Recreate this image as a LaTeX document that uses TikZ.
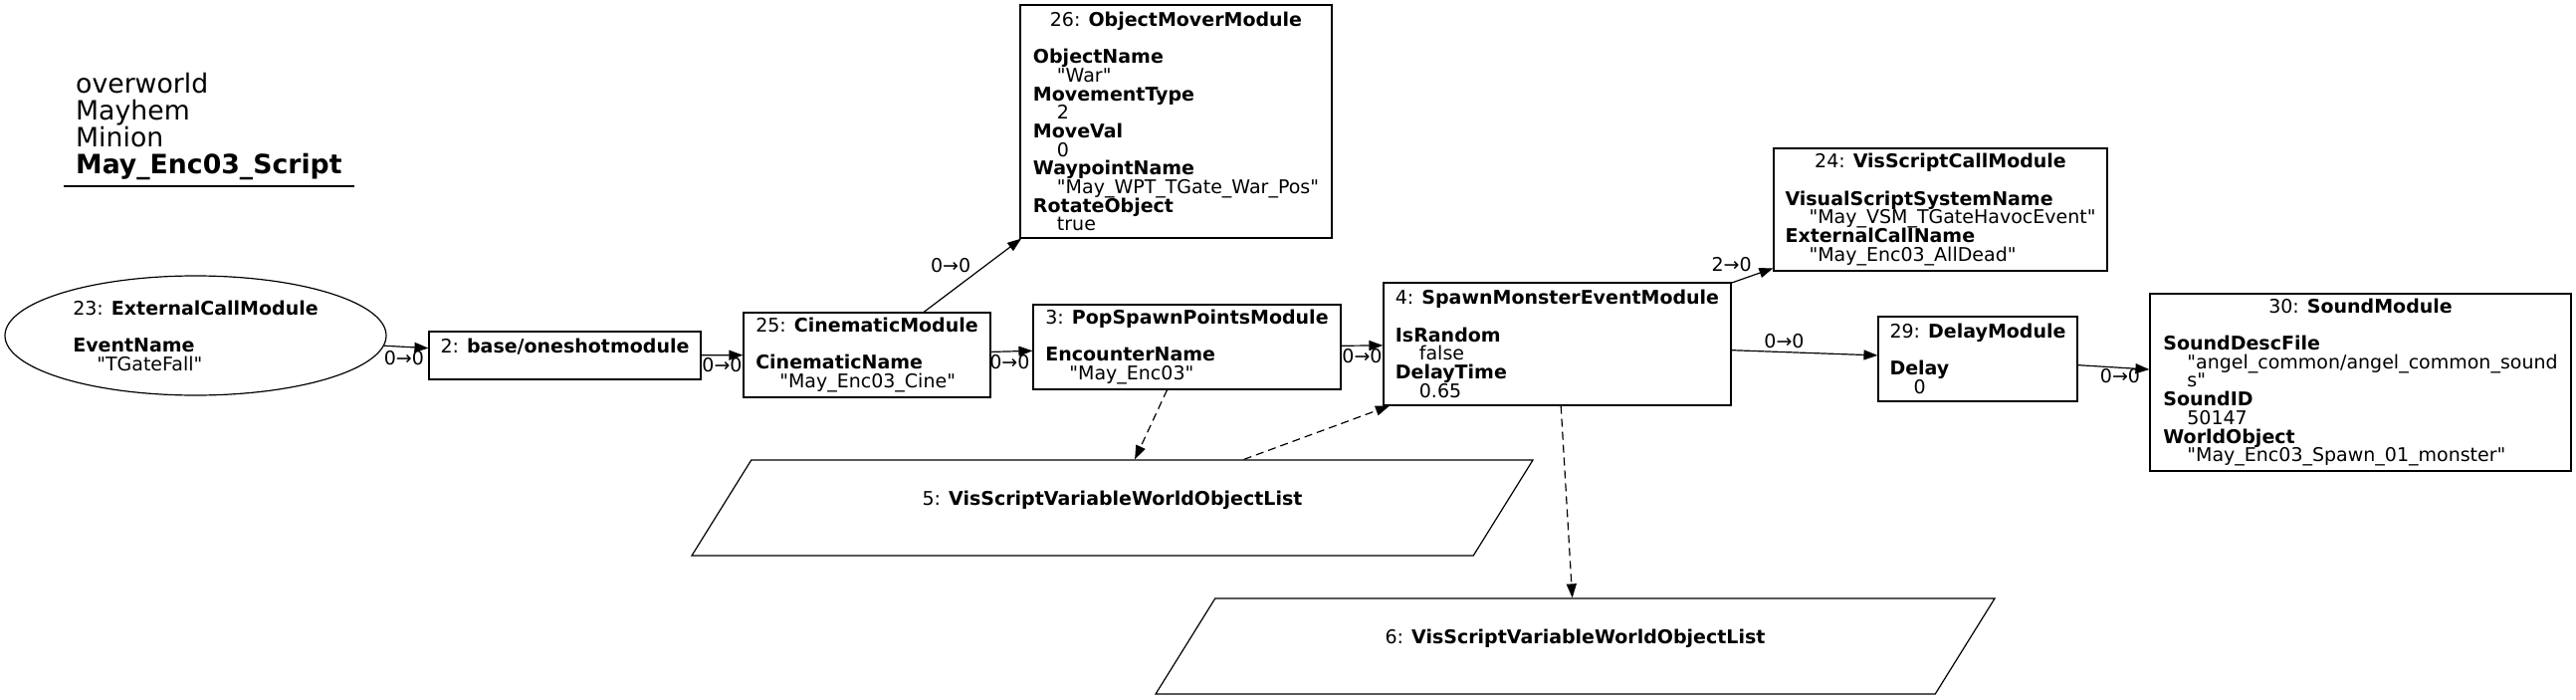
\documentclass[tikz,border=0pt]{standalone}
\usepackage{fontspec}
\setmainfont{DejaVu Sans}[Ligatures=TeXOff]
\usetikzlibrary{positioning}
\usetikzlibrary{shapes.geometric}
\usetikzlibrary{arrows.meta}

\newcommand{\modfont}{\fontsize{19}{18.7}\selectfont}
% lines with a fixed baseline pitch, first one centred
\newcommand{\modtext}[2]{\vbox{\baselineskip=18.7pt\lineskiplimit=-\maxdimen
    \halign{##\hfil\cr\omit\hfil#1\hfil\cr\cr#2}}}
\newcommand{\fname}[1]{\textbf{#1}\cr}
\newcommand{\fval}[1]{\hspace*{24pt}#1\cr}

\begin{document}
\begin{tikzpicture}[x=1pt,y=-1pt,node distance=0,
    modbox/.style={draw,rectangle,line width=1.2pt,inner sep=0pt,font=\modfont},
    callnode/.style={draw,ellipse,line width=1.2pt,inner sep=0pt,font=\modfont},
    varnode/.style={draw,trapezium,trapezium left angle=29,trapezium right angle=151,
        trapezium stretches body,line width=1.2pt,inner sep=0pt,minimum height=96pt,font=\modfont},
    link/.style={line width=1.2pt,-{Triangle[length=14pt,width=10pt]}},
    varlink/.style={link,dash pattern=on 8pt off 5pt},
    lbl/.style={inner sep=0pt,font=\modfont}]
    \useasboundingbox (0,0) rectangle (2588,703);

    % Title
    \node [anchor=base west,inner sep=0pt,font=\fontsize{26.7}{27}\selectfont] (title) at (76,94)
        {\vtop{\baselineskip=27pt\lineskiplimit=-\maxdimen
        \halign{#\hfil\cr overworld\cr Mayhem\cr Minion\cr\textbf{May\_Enc03\_Script}\cr}}};
    \draw [line width=1.2pt] (64,187) -- (356,187);

    % Place nodes
    \node [callnode,minimum width=383pt,minimum height=120pt] (m23) at (196.5,337)
        {\modtext{23: \textbf{ExternalCallModule}}{\fname{EventName}\fval{"TGateFall"}}};
    \node [modbox,minimum width=273pt,minimum height=48pt] (m2) at (567.5,357)
        {\modtext{2: \textbf{base/oneshotmodule}}{}};
    \node [modbox,minimum width=248pt,minimum height=85pt] (m25) at (871,356.5)
        {\modtext{25: \textbf{CinematicModule}}{\fname{CinematicName}\fval{"May\_Enc03\_Cine"}}};
    \node [modbox,minimum width=313pt,minimum height=234pt] (m26) at (1181.5,122)
        {\modtext{26: \textbf{ObjectMoverModule}}{\fname{ObjectName}\fval{"War"}\fname{MovementType}\fval{2}%
        \fname{MoveVal}\fval{0}\fname{WaypointName}\fval{"May\_WPT\_TGate\_War\_Pos"}\fname{RotateObject}\fval{true}}};
    \node [modbox,minimum width=309pt,minimum height=85pt] (m3) at (1192.5,348.5)
        {\modtext{3: \textbf{PopSpawnPointsModule}}{\fname{EncounterName}\fval{"May\_Enc03"}}};
    \node [modbox,minimum width=349pt,minimum height=123pt] (m4) at (1564.5,345.5)
        {\modtext{4: \textbf{SpawnMonsterEventModule}}{\fname{IsRandom}\fval{false}\fname{DelayTime}\fval{0.65}}};
    \node [modbox,minimum width=335pt,minimum height=123pt] (m24) at (1949.5,210.5)
        {\modtext{24: \textbf{VisScriptCallModule}}{\fname{VisualScriptSystemName}\fval{"May\_VSM\_TGateHavocEvent"}%
        \fname{ExternalCallName}\fval{"May\_Enc03\_AllDead"}}};
    \node [modbox,minimum width=200pt,minimum height=85pt] (m29) at (1987,360.5)
        {\modtext{29: \textbf{DelayModule}}{\fname{Delay}\fval{0}}};
    \node [modbox,minimum width=423pt,minimum height=178pt] (m30) at (2371.5,384)
        {\modtext{30: \textbf{SoundModule}}{\fname{SoundDescFile}\fval{"angel\_common/angel\_common\_sound}\fval{s"}%
        \fname{SoundID}\fval{50147}\fname{WorldObject}\fval{"May\_Enc03\_Spawn\_01\_monster"}}};
    \node [varnode,minimum width=845pt] (v5) at (1117.5,510)
        {\modtext{5: \textbf{VisScriptVariableWorldObjectList}}{}};
    \node [varnode,minimum width=843pt] (v6) at (1582.5,649)
        {\modtext{6: \textbf{VisScriptVariableWorldObjectList}}{}};

    % Connections
    \draw [link] (m23) -- (m2) node [lbl,pos=0.45,below=3pt] {0→0};
    \draw [link] (m2) -- (m25) node [lbl,pos=0.5,below=2pt] {0→0};
    \draw [link] (m25) -- (m26) node [lbl,pos=0.64,left=15pt] {0→0};
    \draw [link] (m25) -- (m3) node [lbl,pos=0.45,below=3pt] {0→0};
    \draw [link] (m3) -- (m4) node [lbl,pos=0.5,below=3pt] {0→0};
    \draw [link] (m4) -- (m24) node [lbl,pos=0,above=11pt] {2→0};
    \draw [link] (m4) -- (m29) node [lbl,pos=0.36,above=3pt] {0→0};
    \draw [link] (m29) -- (m30) node [lbl,pos=0.59,below=1pt] {0→0};
    \draw [varlink] (m3) -- (v5);
    \draw [varlink] (v5) -- (m4);
    \draw [varlink] (m4) -- (v6);
\end{tikzpicture}
\end{document}
